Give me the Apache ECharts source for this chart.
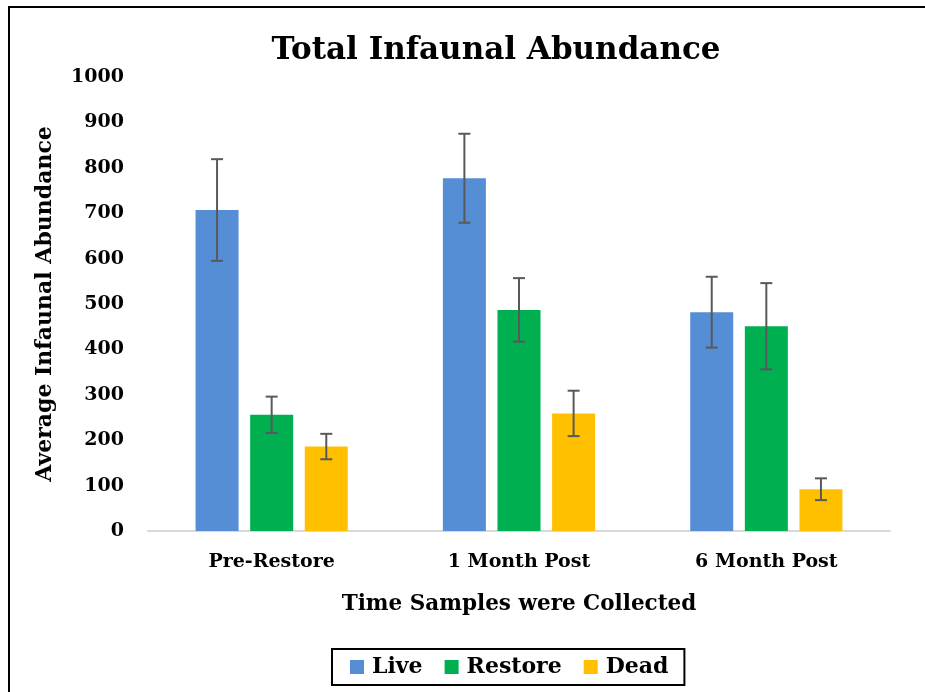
<!DOCTYPE html>
<html>
<head>
<meta charset="utf-8">
<script src="https://cdn.jsdelivr.net/npm/echarts@6/dist/echarts.min.js"></script>
<style>
  html, body { margin: 0; padding: 0; background: #fff; }
  #chart { width: 925px; height: 692px; }
</style>
</head>
<body>
<div id="chart"></div>
<script>
// data
var categories = ["Pre-Restore", "1 Month Post", "6 Month Post"];
var seriesNames = ["Live", "Restore", "Dead"];
var liveValues = [707, 777, 482];
var restoreValues = [256, 487, 451];
var deadValues = [186, 259, 92];
var liveErr = [112, 98, 78];
var restoreErr = [40, 70, 95];
var deadErr = [28, 50, 24];
var yTicks = [0, 100, 200, 300, 400, 500, 600, 700, 800, 900, 1000];

var colors = ["#558ed5", "#00b050", "#ffc000"];
var FONT = "DejaVu Serif";
var BAR_W = 43;
var BAR_GAP = 0.27;

var myChart = echarts.init(document.getElementById("chart"));

function errorSeries(idx, values, errs) {
  return {
    type: "custom",
    name: seriesNames[idx] + " err",
    z: 10,
    silent: true,
    data: values.map(function (v, i) { return [i, v - errs[i], v + errs[i]]; }),
    renderItem: function (params, api) {
      var offset = (idx - 1) * BAR_W * (1 + BAR_GAP);
      var lo = api.coord([api.value(0), api.value(1)]);
      var hi = api.coord([api.value(0), api.value(2)]);
      var x = lo[0] + offset;
      var half = 6;
      var style = { stroke: "#595959", lineWidth: 2 };
      return {
        type: "group",
        children: [
          { type: "line", shape: { x1: x, y1: hi[1], x2: x, y2: lo[1] }, style: style },
          { type: "line", shape: { x1: x - half, y1: hi[1], x2: x + half, y2: hi[1] }, style: style },
          { type: "line", shape: { x1: x - half, y1: lo[1], x2: x + half, y2: lo[1] }, style: style }
        ]
      };
    }
  };
}

var option = {
  backgroundColor: "#fff",
  animation: false,
  title: {
    text: "Total Infaunal Abundance",
    left: 491,
    textAlign: "center",
    top: 30,
    textStyle: { fontFamily: FONT, fontWeight: "bold", fontSize: 31, color: "#000" }
  },
  legend: {
    data: seriesNames,
    left: 332,
    top: 649,
    padding: [7, 16, 7, 18],
    itemGap: 22,
    itemWidth: 14,
    itemHeight: 14,
    icon: "rect",
    borderColor: "#000",
    borderWidth: 2,
    borderRadius: 0,
    textStyle: { fontFamily: FONT, fontWeight: "bold", fontSize: 22, color: "#000", padding: [0, 0, 0, 3] }
  },
  grid: { left: 148, right: 35, top: 77, bottom: 161 },
  xAxis: {
    type: "category",
    data: categories,
    name: "Time Samples were Collected",
    nameLocation: "middle",
    nameGap: 62,
    nameTextStyle: { fontFamily: FONT, fontWeight: "bold", fontSize: 21.5, color: "#000" },
    axisLine: { lineStyle: { color: "#d9d9d9", width: 2 } },
    axisTick: { show: false },
    axisLabel: { fontFamily: FONT, fontWeight: "bold", fontSize: 19, color: "#000", margin: 22 }
  },
  yAxis: {
    type: "value",
    min: yTicks[0],
    max: yTicks[yTicks.length - 1],
    interval: yTicks[1] - yTicks[0],
    name: "Average Infaunal Abundance",
    nameLocation: "middle",
    nameGap: 92,
    nameTextStyle: { fontFamily: FONT, fontWeight: "bold", fontSize: 22, color: "#000" },
    axisLine: { show: false },
    axisTick: { show: false },
    splitLine: { show: false },
    axisLabel: {
      fontFamily: FONT, fontWeight: "bold", fontSize: 19, color: "#000", margin: 24,
      formatter: function (v) { return String(v); }
    }
  },
  graphic: [
    {
      type: "rect",
      shape: { x: 9, y: 7, width: 940, height: 720 },
      style: { fill: null, stroke: "#000", lineWidth: 2 },
      silent: true
    }
  ],
  series: [
    { type: "bar", name: seriesNames[0], data: liveValues, barWidth: BAR_W, barGap: BAR_GAP * 100 + "%", itemStyle: { color: colors[0] } },
    { type: "bar", name: seriesNames[1], data: restoreValues, barWidth: BAR_W, barGap: BAR_GAP * 100 + "%", itemStyle: { color: colors[1] } },
    { type: "bar", name: seriesNames[2], data: deadValues, barWidth: BAR_W, barGap: BAR_GAP * 100 + "%", itemStyle: { color: colors[2] } },
    errorSeries(0, liveValues, liveErr),
    errorSeries(1, restoreValues, restoreErr),
    errorSeries(2, deadValues, deadErr)
  ]
};

myChart.setOption(option);
</script>
</body>
</html>
